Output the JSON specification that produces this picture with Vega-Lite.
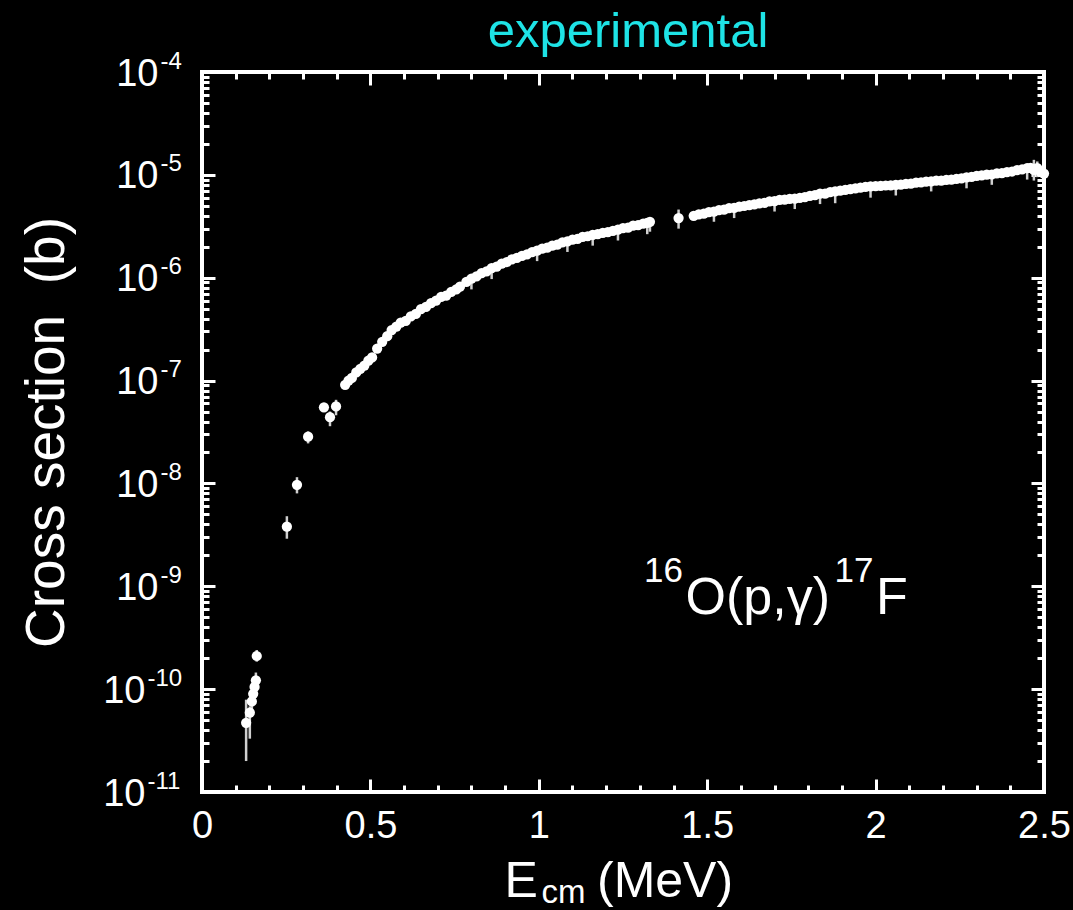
{
  "$schema": "https://vega.github.io/schema/vega-lite/v6.json",
  "width": 842,
  "height": 720,
  "autosize": "none",
  "padding": {"left": 202, "top": 72, "right": 29, "bottom": 118},
  "background": "black",
  "config": {
    "view": {"stroke": "white", "strokeWidth": 4},
    "font": "Liberation Sans",
    "axis": {
      "domain": false,
      "grid": false,
      "tickColor": "white",
      "tickWidth": 3,
      "labelColor": "white",
      "titleColor": "white",
      "labelFont": "Liberation Sans",
      "titleFont": "Liberation Sans",
      "titleFontWeight": "normal",
      "labelOverlap": false
    }
  },
  "title": {
    "text": "experimental",
    "color": "#1ee3e6",
    "fontSize": 49,
    "fontWeight": "normal",
    "font": "Liberation Sans",
    "anchor": "middle",
    "frame": "group",
    "baseline": "alphabetic",
    "offset": 2,
    "dx": 5,
    "dy": 49
  },
  "datasets": {
    "pts": [
      {"E": 0.131, "s": 4.7e-11}, {"E": 0.142, "s": 5.9e-11}, {"E": 0.148, "s": 7.6e-11}, {"E": 0.152, "s": 9.0e-11},
      {"E": 0.156, "s": 1.05e-10}, {"E": 0.16, "s": 1.22e-10}, {"E": 0.1625, "s": 2.1e-10},
      {"E": 0.252, "s": 3.8e-9}, {"E": 0.282, "s": 9.7e-9}, {"E": 0.315, "s": 2.85e-8},
      {"E": 0.362, "s": 5.5e-8}, {"E": 0.38, "s": 4.4e-8}, {"E": 0.398, "s": 5.6e-8},
      {"E": 0.425, "s": 9.1e-8}, {"E": 0.435, "s": 1.0e-7}, {"E": 0.445, "s": 1.06e-7}, {"E": 0.458, "s": 1.2e-7},
      {"E": 0.47, "s": 1.3e-7}, {"E": 0.482, "s": 1.4e-7}, {"E": 0.494, "s": 1.56e-7}, {"E": 0.505, "s": 1.68e-7},
      {"E": 0.52, "s": 2.05e-7}, {"E": 0.535, "s": 2.38e-7}, {"E": 0.55, "s": 2.7e-7}, {"E": 0.563, "s": 3.1e-7},
      {"E": 0.577, "s": 3.35e-7}, {"E": 0.59, "s": 3.65e-7}, {"E": 0.605, "s": 3.8e-7}, {"E": 0.62, "s": 4.2e-7},
      {"E": 0.635, "s": 4.45e-7}, {"E": 0.65, "s": 4.95e-7}, {"E": 0.665, "s": 5.2e-7}, {"E": 0.68, "s": 5.65e-7},
      {"E": 0.695, "s": 6.0e-7}, {"E": 0.71, "s": 6.5e-7}, {"E": 0.725, "s": 6.7e-7}, {"E": 0.74, "s": 7.3e-7},
      {"E": 0.755, "s": 7.7e-7}, {"E": 0.766, "s": 8.2e-7},
      {"E": 0.785, "s": 9.1e-7}, {"E": 0.8, "s": 9.8e-7}, {"E": 0.815, "s": 1.03e-6}, {"E": 0.83, "s": 1.11e-6},
      {"E": 0.845, "s": 1.15e-6}, {"E": 0.86, "s": 1.24e-6}, {"E": 0.875, "s": 1.28e-6}, {"E": 0.89, "s": 1.37e-6},
      {"E": 0.905, "s": 1.42e-6}, {"E": 0.92, "s": 1.51e-6}, {"E": 0.935, "s": 1.56e-6}, {"E": 0.95, "s": 1.63e-6},
      {"E": 0.965, "s": 1.69e-6}, {"E": 0.98, "s": 1.77e-6}, {"E": 0.995, "s": 1.83e-6}, {"E": 1.01, "s": 1.92e-6},
      {"E": 1.025, "s": 1.96e-6}, {"E": 1.04, "s": 2.05e-6}, {"E": 1.055, "s": 2.1e-6}, {"E": 1.07, "s": 2.2e-6},
      {"E": 1.085, "s": 2.25e-6}, {"E": 1.1, "s": 2.35e-6}, {"E": 1.115, "s": 2.39e-6}, {"E": 1.13, "s": 2.49e-6},
      {"E": 1.145, "s": 2.53e-6}, {"E": 1.16, "s": 2.61e-6}, {"E": 1.175, "s": 2.65e-6}, {"E": 1.19, "s": 2.73e-6},
      {"E": 1.205, "s": 2.78e-6}, {"E": 1.22, "s": 2.86e-6}, {"E": 1.235, "s": 2.93e-6}, {"E": 1.25, "s": 3.03e-6},
      {"E": 1.265, "s": 3.07e-6}, {"E": 1.28, "s": 3.21e-6}, {"E": 1.295, "s": 3.25e-6}, {"E": 1.31, "s": 3.36e-6},
      {"E": 1.322, "s": 3.41e-6}, {"E": 1.33, "s": 3.5e-6},
      {"E": 1.415, "s": 3.8e-6},
      {"E": 1.46, "s": 4.0e-6}, {"E": 1.475, "s": 4.13e-6}, {"E": 1.49, "s": 4.2e-6}, {"E": 1.505, "s": 4.33e-6},
      {"E": 1.52, "s": 4.4e-6}, {"E": 1.535, "s": 4.54e-6}, {"E": 1.55, "s": 4.6e-6}, {"E": 1.565, "s": 4.75e-6},
      {"E": 1.58, "s": 4.77e-6}, {"E": 1.595, "s": 4.92e-6}, {"E": 1.61, "s": 4.98e-6}, {"E": 1.625, "s": 5.09e-6},
      {"E": 1.64, "s": 5.17e-6}, {"E": 1.655, "s": 5.27e-6}, {"E": 1.67, "s": 5.35e-6}, {"E": 1.685, "s": 5.52e-6},
      {"E": 1.7, "s": 5.54e-6}, {"E": 1.715, "s": 5.71e-6}, {"E": 1.73, "s": 5.73e-6}, {"E": 1.745, "s": 5.84e-6},
      {"E": 1.76, "s": 5.87e-6}, {"E": 1.775, "s": 5.98e-6}, {"E": 1.79, "s": 6.08e-6}, {"E": 1.805, "s": 6.26e-6},
      {"E": 1.82, "s": 6.35e-6}, {"E": 1.835, "s": 6.56e-6}, {"E": 1.85, "s": 6.58e-6}, {"E": 1.865, "s": 6.79e-6},
      {"E": 1.88, "s": 6.89e-6}, {"E": 1.895, "s": 7.03e-6}, {"E": 1.91, "s": 7.13e-6}, {"E": 1.925, "s": 7.27e-6},
      {"E": 1.94, "s": 7.38e-6}, {"E": 1.955, "s": 7.53e-6}, {"E": 1.97, "s": 7.64e-6}, {"E": 1.985, "s": 7.74e-6},
      {"E": 2.0, "s": 7.78e-6}, {"E": 2.015, "s": 7.8e-6}, {"E": 2.03, "s": 7.88e-6}, {"E": 2.045, "s": 7.92e-6},
      {"E": 2.06, "s": 8.01e-6}, {"E": 2.075, "s": 8.02e-6}, {"E": 2.09, "s": 8.16e-6}, {"E": 2.105, "s": 8.2e-6},
      {"E": 2.12, "s": 8.39e-6}, {"E": 2.135, "s": 8.45e-6}, {"E": 2.15, "s": 8.58e-6}, {"E": 2.165, "s": 8.64e-6},
      {"E": 2.18, "s": 8.78e-6}, {"E": 2.195, "s": 8.8e-6}, {"E": 2.21, "s": 8.94e-6}, {"E": 2.225, "s": 8.98e-6},
      {"E": 2.24, "s": 9.15e-6}, {"E": 2.255, "s": 9.24e-6}, {"E": 2.27, "s": 9.47e-6}, {"E": 2.285, "s": 9.56e-6},
      {"E": 2.3, "s": 9.75e-6}, {"E": 2.315, "s": 9.86e-6}, {"E": 2.33, "s": 1.003e-5}, {"E": 2.345, "s": 1.008e-5},
      {"E": 2.36, "s": 1.033e-5}, {"E": 2.375, "s": 1.038e-5}, {"E": 2.39, "s": 1.063e-5}, {"E": 2.405, "s": 1.078e-5},
      {"E": 2.42, "s": 1.113e-5}, {"E": 2.435, "s": 1.13e-5}, {"E": 2.45, "s": 1.165e-5}, {"E": 2.46, "s": 1.17e-5},
      {"E": 2.47, "s": 1.12e-5}, {"E": 2.48, "s": 1.16e-5}, {"E": 2.49, "s": 1.07e-5}, {"E": 2.5, "s": 1.03e-5}
    ],
    "errs": [
      {"E": 0.131, "lo": 2.0e-11, "hi": 7.9e-11}, {"E": 0.142, "lo": 3.3e-11, "hi": 6.8e-11},
      {"E": 0.148, "lo": 6.0e-11, "hi": 9.5e-11}, {"E": 0.152, "lo": 7.4e-11, "hi": 1.08e-10},
      {"E": 0.16, "lo": 1.0e-10, "hi": 1.45e-10}, {"E": 0.1625, "lo": 1.85e-10, "hi": 2.4e-10},
      {"E": 0.252, "lo": 2.9e-9, "hi": 4.8e-9}, {"E": 0.282, "lo": 8.0e-9, "hi": 1.15e-8},
      {"E": 0.315, "lo": 2.45e-8, "hi": 3.2e-8}, {"E": 0.38, "lo": 3.6e-8, "hi": 5.0e-8},
      {"E": 0.398, "lo": 4.6e-8, "hi": 6.5e-8},
      {"E": 0.8, "lo": 7.7e-7, "hi": 1.08e-6}, {"E": 0.86, "lo": 9.7e-7, "hi": 1.36e-6},
      {"E": 0.995, "lo": 1.45e-6, "hi": 2.0e-6}, {"E": 1.085, "lo": 1.78e-6, "hi": 2.47e-6},
      {"E": 1.16, "lo": 2.05e-6, "hi": 2.87e-6}, {"E": 1.235, "lo": 2.3e-6, "hi": 3.2e-6},
      {"E": 1.322, "lo": 2.65e-6, "hi": 3.75e-6}, {"E": 1.33, "lo": 2.8e-6, "hi": 3.85e-6},
      {"E": 1.415, "lo": 3.0e-6, "hi": 4.6e-6}, {"E": 1.52, "lo": 3.5e-6, "hi": 4.85e-6},
      {"E": 1.58, "lo": 3.8e-6, "hi": 5.25e-6}, {"E": 1.7, "lo": 4.4e-6, "hi": 6.1e-6},
      {"E": 1.76, "lo": 4.65e-6, "hi": 6.45e-6}, {"E": 1.835, "lo": 5.2e-6, "hi": 7.2e-6},
      {"E": 1.88, "lo": 5.3e-6, "hi": 7.6e-6}, {"E": 1.985, "lo": 6.0e-6, "hi": 8.5e-6},
      {"E": 2.06, "lo": 6.3e-6, "hi": 8.8e-6}, {"E": 2.165, "lo": 6.9e-6, "hi": 9.5e-6},
      {"E": 2.27, "lo": 7.4e-6, "hi": 1.04e-5}, {"E": 2.345, "lo": 8.0e-6, "hi": 1.11e-5},
      {"E": 2.45, "lo": 9.0e-6, "hi": 1.28e-5}, {"E": 2.47, "lo": 8.8e-6, "hi": 1.4e-5},
      {"E": 2.48, "lo": 9.5e-6, "hi": 1.35e-5}
    ],
    "bigText": [
      {"t": "O(p,γ)", "E": 1.4356, "s": 5.38e-10},
      {"t": "F", "E": 2.001, "s": 5.38e-10}
    ],
    "smallText": [
      {"t": "16", "E": 1.3123, "s": 1.1e-9},
      {"t": "17", "E": 1.878, "s": 1.1e-9}
    ]
  },
  "layer": [
    {
      "data": {"name": "errs"},
      "mark": {"type": "rule", "color": "#cfcfcf", "strokeWidth": 2.5},
      "encoding": {
        "x": {
          "field": "E", "type": "quantitative",
          "scale": {"domain": [0, 2.5], "nice": false, "zero": false},
          "axis": {
            "orient": "bottom", "values": [0, 0.5, 1, 1.5, 2, 2.5], "tickSize": -13,
            "labelFontSize": 38, "labelPadding": 58, "labelBaseline": "alphabetic", "labelFlush": false, "format": "~g",
            "title": "E", "titleFontSize": 50, "titleX": 302, "titleY": 104, "titleAlign": "left", "titleBaseline": "alphabetic"
          }
        },
        "y": {
          "field": "lo", "type": "quantitative",
          "scale": {"type": "log", "domain": [1e-11, 1e-4], "nice": false},
          "axis": {
            "orient": "left", "values": [1e-11, 1e-10, 1e-9, 1e-8, 1e-7, 1e-6, 1e-5, 1e-4], "tickSize": -13,
            "labelFontSize": 38, "labelExpr": "'10'", "labelAlign": "right", "labelBaseline": "alphabetic", "labelOffset": 13,
            "labelPadding": {"condition": {"test": "datum.value < 5e-10", "value": 70}, "value": 57},
            "title": "Cross section \u00a0(b)", "titleFontSize": 55, "titleX": -139, "titleY": 360, "titleAngle": -90,
            "titleAlign": "center", "titleBaseline": "alphabetic"
          }
        },
        "y2": {"field": "hi"}
      }
    },
    {
      "data": {"name": "pts"},
      "mark": {"type": "circle", "color": "white", "size": 105, "opacity": 1},
      "encoding": {
        "x": {
          "field": "E", "type": "quantitative",
          "scale": {"domain": [0, 2.5], "nice": false, "zero": false},
          "axis": {
            "orient": "bottom",
            "values": [0.1, 0.2, 0.3, 0.4, 0.6, 0.7, 0.8, 0.9, 1.1, 1.2, 1.3, 1.4, 1.6, 1.7, 1.8, 1.9, 2.1, 2.2, 2.3, 2.4],
            "tickSize": -7, "labels": false,
            "title": "cm", "titleFontSize": 33, "titleX": 339, "titleY": 110, "titleAlign": "left", "titleBaseline": "alphabetic"
          }
        },
        "y": {
          "field": "s", "type": "quantitative",
          "scale": {"type": "log", "domain": [1e-11, 1e-4], "nice": false},
          "axis": {
            "orient": "left",
            "values": [1e-11, 2e-11, 3e-11, 4e-11, 5e-11, 6e-11, 7e-11, 8e-11, 9e-11,
                       1e-10, 2e-10, 3e-10, 4e-10, 5e-10, 6e-10, 7e-10, 8e-10, 9e-10,
                       1e-9, 2e-9, 3e-9, 4e-9, 5e-9, 6e-9, 7e-9, 8e-9, 9e-9,
                       1e-8, 2e-8, 3e-8, 4e-8, 5e-8, 6e-8, 7e-8, 8e-8, 9e-8,
                       1e-7, 2e-7, 3e-7, 4e-7, 5e-7, 6e-7, 7e-7, 8e-7, 9e-7,
                       1e-6, 2e-6, 3e-6, 4e-6, 5e-6, 6e-6, 7e-6, 8e-6, 9e-6,
                       1e-5, 2e-5, 3e-5, 4e-5, 5e-5, 6e-5, 7e-5, 8e-5, 9e-5, 1e-4],
            "tickSize": -7,
            "labelFontSize": 24, "labelAlign": "left", "labelBaseline": "alphabetic", "labelOffset": -4,
            "labelExpr": "abs(log(datum.value)/LN10 - round(log(datum.value)/LN10)) < 0.001 ? '-' + format(-round(log(datum.value)/LN10), 'd') : ''",
            "labelPadding": {"condition": {"test": "datum.value < 5e-10", "value": 62}, "value": 49},
            "title": null
          }
        }
      }
    },
    {
      "data": {"name": "bigText"},
      "mark": {"type": "text", "color": "white", "fontSize": 52, "align": "left", "baseline": "alphabetic", "font": "Liberation Sans"},
      "encoding": {
        "x": {
          "field": "E", "type": "quantitative",
          "scale": {"domain": [0, 2.5], "nice": false, "zero": false},
          "axis": {
            "orient": "top", "values": [0, 0.5, 1, 1.5, 2, 2.5], "tickSize": -13, "labels": false,
            "title": "(MeV)", "titleFontSize": 50, "titleX": 394.5, "titleY": 824, "titleAlign": "left", "titleBaseline": "alphabetic"
          }
        },
        "y": {
          "field": "s", "type": "quantitative",
          "scale": {"type": "log", "domain": [1e-11, 1e-4], "nice": false},
          "axis": {
            "orient": "right", "values": [1e-11, 1e-10, 1e-9, 1e-8, 1e-7, 1e-6, 1e-5, 1e-4], "tickSize": -13,
            "labels": false, "title": null
          }
        },
        "text": {"field": "t"}
      }
    },
    {
      "data": {"name": "smallText"},
      "mark": {"type": "text", "color": "white", "fontSize": 35, "align": "left", "baseline": "alphabetic", "font": "Liberation Sans"},
      "encoding": {
        "x": {
          "field": "E", "type": "quantitative",
          "scale": {"domain": [0, 2.5], "nice": false, "zero": false},
          "axis": {
            "orient": "top",
            "values": [0.1, 0.2, 0.3, 0.4, 0.6, 0.7, 0.8, 0.9, 1.1, 1.2, 1.3, 1.4, 1.6, 1.7, 1.8, 1.9, 2.1, 2.2, 2.3, 2.4],
            "tickSize": -7, "labels": false, "title": null
          }
        },
        "y": {
          "field": "s", "type": "quantitative",
          "scale": {"type": "log", "domain": [1e-11, 1e-4], "nice": false},
          "axis": {
            "orient": "right",
            "values": [2e-11, 3e-11, 4e-11, 5e-11, 6e-11, 7e-11, 8e-11, 9e-11,
                       2e-10, 3e-10, 4e-10, 5e-10, 6e-10, 7e-10, 8e-10, 9e-10,
                       2e-9, 3e-9, 4e-9, 5e-9, 6e-9, 7e-9, 8e-9, 9e-9,
                       2e-8, 3e-8, 4e-8, 5e-8, 6e-8, 7e-8, 8e-8, 9e-8,
                       2e-7, 3e-7, 4e-7, 5e-7, 6e-7, 7e-7, 8e-7, 9e-7,
                       2e-6, 3e-6, 4e-6, 5e-6, 6e-6, 7e-6, 8e-6, 9e-6,
                       2e-5, 3e-5, 4e-5, 5e-5, 6e-5, 7e-5, 8e-5, 9e-5],
            "tickSize": -7, "labels": false, "title": null
          }
        },
        "text": {"field": "t"}
      }
    }
  ],
  "resolve": {"axis": {"x": "independent", "y": "independent"}}
}
